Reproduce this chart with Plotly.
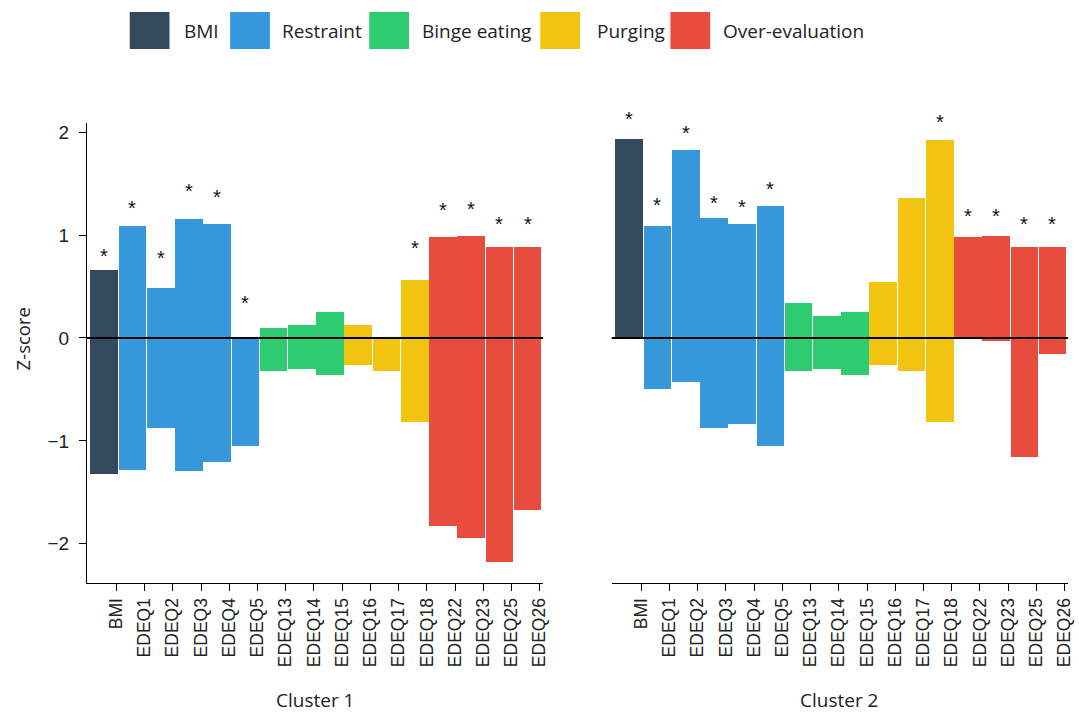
import plotly.graph_objects as go

# ---------------- data ----------------
categories = ["BMI", "EDEQ1", "EDEQ2", "EDEQ3", "EDEQ4", "EDEQ5", "EDEQ13", "EDEQ14",
              "EDEQ15", "EDEQ16", "EDEQ17", "EDEQ18", "EDEQ22", "EDEQ23", "EDEQ25", "EDEQ26"]
groups = ["BMI", "Restraint", "Restraint", "Restraint", "Restraint", "Restraint",
          "Binge eating", "Binge eating", "Binge eating", "Purging", "Purging", "Purging",
          "Over-evaluation", "Over-evaluation", "Over-evaluation", "Over-evaluation"]
group_names = ["BMI", "Restraint", "Binge eating", "Purging", "Over-evaluation"]
group_colors = ["#34495e", "#3498db", "#2ecc71", "#f1c40f", "#e74c3c"]

cluster1_high = [0.66, 1.09, 0.49, 1.16, 1.11, 0.00, 0.10, 0.13, 0.25, 0.13, 0.00, 0.56, 0.98, 0.99, 0.88, 0.88]
cluster1_low = [-1.32, -1.28, -0.87, -1.29, -1.21, -1.05, -0.32, -0.30, -0.36, -0.26, -0.32, -0.82, -1.83, -1.94, -2.18, -1.67]
cluster1_star = [0.82, 1.28, 0.80, 1.45, 1.39, 0.36, None, None, None, None, None, 0.89, 1.26, 1.27, 1.13, 1.13]

cluster2_high = [1.93, 1.09, 1.83, 1.17, 1.11, 1.28, 0.34, 0.21, 0.25, 0.54, 1.36, 1.92, 0.98, 0.99, 0.88, 0.88]
cluster2_low = [0.00, -0.50, -0.43, -0.87, -0.84, -1.05, -0.32, -0.30, -0.36, -0.26, -0.32, -0.82, 0.00, -0.03, -1.16, -0.16]
cluster2_star = [2.15, 1.31, 2.01, 1.33, 1.29, 1.47, None, None, None, None, None, 2.12, 1.20, 1.20, 1.13, 1.13]

cluster_titles = ["Cluster 1", "Cluster 2"]
y_ticks = [-2, -1, 0, 1, 2]
Y_RANGE = [-2.381, 2.089]

# ---------------- layout constants ----------------
W, H = 1079, 713
ML, MR, MT, MB = 87, 5, 123, 130
PW, PH = W - ML - MR, H - MT - MB

def px2x(px):
    return (px - ML) / PW

def py2y(py):
    return (H - MB - py) / PH

def val2paper(v):
    return (v - Y_RANGE[0]) / (Y_RANGE[1] - Y_RANGE[0])

TICK_FONT = "Liberation Sans, Arial, sans-serif"
TEXT_FONT = "Open Sans, sans-serif"
BAR_WIDTH = 0.98
BAR_OFFSET = -0.92

fig = go.Figure()

clusters = [
    (cluster1_high, cluster1_low, cluster1_star, "x", "y"),
    (cluster2_high, cluster2_low, cluster2_star, "x2", "y2"),
]

annotations = []
for high, low, star, xa, ya in clusters:
    for gname, gcolor in zip(group_names, group_colors):
        idx = [i for i, g in enumerate(groups) if g == gname]
        fig.add_trace(go.Bar(
            x=[categories[i] for i in idx],
            y=[high[i] - low[i] for i in idx],
            base=[low[i] for i in idx],
            width=BAR_WIDTH, offset=BAR_OFFSET,
            marker=dict(color=gcolor, line=dict(width=0)),
            name=gname, showlegend=False,
            xaxis=xa, yaxis=ya,
            hovertemplate="%{x}<extra>" + gname + "</extra>",
        ))
    for i, s in enumerate(star):
        if s is None:
            continue
        annotations.append(dict(
            x=i + BAR_OFFSET + BAR_WIDTH / 2, y=val2paper(s), xref=xa, yref="paper",
            text="*", showarrow=False, yanchor="middle", xanchor="center",
            yshift=-2,
            font=dict(family=TICK_FONT, size=20, color="#111"),
        ))

# zero lines drawn above the bars
shapes = []
for xa, ya in [("x", "y"), ("x2", "y2")]:
    shapes.append(dict(type="line", xref=xa + " domain", yref=ya, x0=0, x1=1, y0=0, y1=0,
                       line=dict(color="black", width=2), layer="above"))

# custom legend (large square swatches)
legend_swatch_left = [130, 231, 371, 543, 674]
legend_text_left = [183, 281, 422, 598, 725]
for gname, gcolor, sx, tx in zip(group_names, group_colors, legend_swatch_left, legend_text_left):
    shapes.append(dict(type="rect", xref="paper", yref="paper",
                       x0=px2x(sx), x1=px2x(sx + 40), y0=py2y(49), y1=py2y(12),
                       fillcolor=gcolor, line=dict(width=0)))
    annotations.append(dict(x=px2x(tx), y=py2y(31), xref="paper", yref="paper",
                            text=gname, showarrow=False, xanchor="left", yanchor="middle",
                            font=dict(family=TEXT_FONT, size=19, color="#222")))

# cluster titles and y title
for title, cx in zip(cluster_titles, [316, 844]):
    annotations.append(dict(x=px2x(cx), y=py2y(700), xref="paper", yref="paper",
                            text=title, showarrow=False, xanchor="center", yanchor="middle",
                            font=dict(family=TEXT_FONT, size=19, color="#222")))
annotations.append(dict(x=px2x(22), y=py2y(339), xref="paper", yref="paper",
                        text="Z-score", showarrow=False, textangle=-90,
                        xanchor="center", yanchor="middle",
                        font=dict(family=TEXT_FONT, size=18.5, color="#222")))

xaxis_common = dict(
    type="category", categoryorder="array", categoryarray=categories,
    range=[-1.04, 15.12], showline=True, linecolor="black", linewidth=1.2,
    ticks="outside", ticklen=7, tickcolor="black", tickwidth=1.2,
    tickangle=-90, tickfont=dict(family=TICK_FONT, size=17.5, color="#222"),
    showgrid=False, zeroline=False, fixedrange=True,
)

fig.update_layout(
    width=W, height=H,
    margin=dict(l=ML, r=MR, t=MT, b=MB, pad=0),
    paper_bgcolor="white", plot_bgcolor="white",
    barmode="overlay", bargap=0,
    showlegend=False,
    xaxis=dict(domain=[0, 0.465], anchor="y", **xaxis_common),
    xaxis2=dict(domain=[0.535, 1.0], anchor="y2", **xaxis_common),
    yaxis=dict(domain=[0, 1], anchor="x", range=Y_RANGE,
               tickvals=y_ticks, showline=True, linecolor="black", linewidth=1.2,
               ticks="outside", ticklen=7, tickcolor="black", tickwidth=1.2,
               ticklabelstandoff=6,
               tickfont=dict(family=TICK_FONT, size=19, color="#222"),
               showgrid=False, zeroline=False),
    yaxis2=dict(domain=[0, 1], anchor="x2", matches="y", range=Y_RANGE,
                showline=False, showticklabels=False, ticks="",
                showgrid=False, zeroline=False),
    shapes=shapes,
    annotations=annotations,
)

fig.write_html(
    "out.html",
    config={"displayModeBar": False},
    post_script="document.body.style.margin='0';document.body.style.padding='0';"
                "document.documentElement.style.overflow='hidden';",
)
